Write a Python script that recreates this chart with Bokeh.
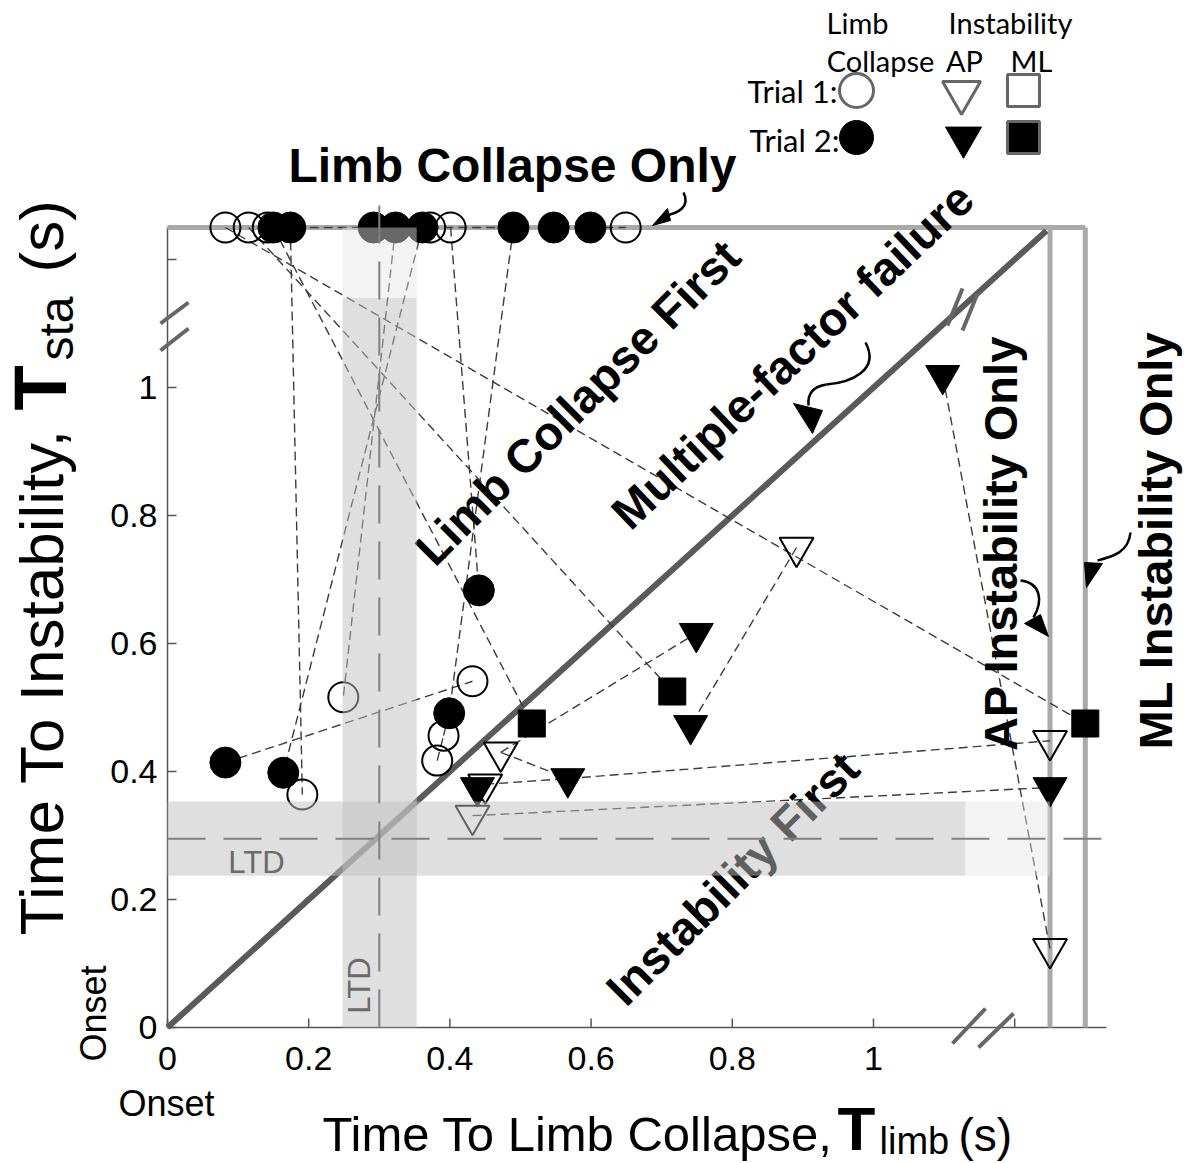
import math
from bokeh.plotting import figure
from bokeh.models import Range1d
from bokeh.core.properties import value
from bokeh.embed import file_html
from bokeh.resources import INLINE

# ---------------- data (seconds) ----------------
ONLY = 1.25          # limb-collapse-only level (top line)
AP_ONLY = 1.25       # x position of "AP instability only"
ML_ONLY = 1.30       # x position of "ML instability only"
LTD_X = 0.30
LTD_Y = 0.295
LTD_X_BAND = [0.248, 0.353]
LTD_Y_BAND = [0.237, 0.353]
BREAK_X = 1.13
BREAK_Y = 1.14

# limb collapse, trial 1 (open circles)
lc1_x = [0.082, 0.115, 0.142, 0.372, 0.401, 0.649, 0.191, 0.249, 0.432, 0.391, 0.382]
lc1_y = [1.25, 1.25, 1.25, 1.25, 1.25, 1.25, 0.364, 0.516, 0.541, 0.456, 0.417]
# limb collapse, trial 2 (filled circles)
lc2_x = [0.150, 0.174, 0.292, 0.323, 0.361, 0.490, 0.547, 0.599, 0.082, 0.164, 0.399, 0.441]
lc2_y = [1.25, 1.25, 1.25, 1.25, 1.25, 1.25, 1.25, 1.25, 0.414, 0.398, 0.491, 0.683]
# AP instability, trial 1 (open down-triangles)
ap1_x = [0.472, 0.450, 0.432, 0.891, 1.25, 1.25]
ap1_y = [0.430, 0.380, 0.331, 0.750, 0.448, 0.123]
# AP instability, trial 2 (filled down-triangles)
ap2_x = [0.439, 0.567, 0.749, 0.741, 1.098, 1.25]
ap2_y = [0.375, 0.389, 0.616, 0.472, 1.019, 0.375]
# ML instability, trial 2 (filled squares)
ml2_x = [0.516, 0.715, 1.30]
ml2_y = [0.475, 0.525, 0.475]

# subject links (group, index) -> (group, index)
links = [
    ("lc1", 0, "ml2", 2), ("lc1", 1, "ml2", 1), ("lc1", 2, "lc2", 2),
    ("lc2", 0, "ml2", 0), ("lc2", 1, "lc1", 6), ("lc2", 3, "lc1", 7),
    ("lc2", 4, "lc2", 9), ("lc1", 4, "lc2", 11), ("lc1", 3, "lc2", 5),
    ("lc2", 5, "lc2", 10), ("lc2", 7, "lc1", 5), ("lc2", 8, "lc1", 8),
    ("lc1", 9, "lc2", 10), ("lc1", 10, "lc1", 9), ("ap1", 0, "ap2", 2),
    ("ap1", 0, "ap2", 1), ("ap1", 1, "ap2", 1), ("ap2", 1, "ap1", 4),
    ("ap2", 0, "ap1", 1), ("ap1", 2, "ap2", 5), ("ap1", 3, "ap2", 3),
    ("ap2", 4, "ap1", 5),
]

x_ticks = [0, 0.2, 0.4, 0.6, 0.8, 1, 1.2]
x_tick_labels = ["0", "0.2", "0.4", "0.6", "0.8", "1", ""]
y_ticks = [0, 0.2, 0.4, 0.6, 0.8, 1, 1.2]
y_tick_labels = ["0", "0.2", "0.4", "0.6", "0.8", "1", ""]

groups = {"lc1": (lc1_x, lc1_y), "lc2": (lc2_x, lc2_y), "ap1": (ap1_x, ap1_y),
          "ap2": (ap2_x, ap2_y), "ml2": (ml2_x, ml2_y)}

# ---------------- layout helpers ----------------
W, H = 1187, 1163
X0, SX, Y0, SY = 167, 706, 1027, 640
def dx(px): return (px - X0) / SX
def dy(py): return (Y0 - py) / SY

FONT = value("Liberation Sans")
LEGF = value("Lato")

p = figure(width=W, height=H, output_backend="svg", toolbar_location=None,
           x_range=Range1d(dx(0), dx(W)), y_range=Range1d(dy(H), dy(0)),
           min_border=0, min_border_left=0, min_border_right=0, min_border_top=0,
           min_border_bottom=0)
p.axis.visible = False
p.grid.visible = False
p.outline_line_color = None
p.background_fill_color = "white"
p.border_fill_color = "white"

def txt(px, py, s, size, ang=0.0, bold=False, color="black", font=FONT, align="center",
        base="middle"):
    p.text(x=[dx(px)], y=[dy(py)], text=[s], angle=math.radians(ang), text_font=font,
           text_font_size=size, text_font_style="bold" if bold else "normal",
           text_color=color, text_align=align, text_baseline=base)

# ---------------- axes (drawn through the data scales) ----------------
AXC = "#555555"
p.segment(x0=[0, 0], y0=[0, 0], x1=[0, 1.33], y1=[ONLY, 0], line_color=AXC, line_width=1.5)
p.segment(x0=[0] * len(y_ticks), y0=y_ticks, x1=[9 / SX] * len(y_ticks), y1=y_ticks,
          line_color=AXC, line_width=1.5)
p.segment(x0=x_ticks, y0=[0] * len(x_ticks), x1=x_ticks, y1=[9 / SY] * len(x_ticks),
          line_color=AXC, line_width=1.5)
p.text(x=[-10 / SX] * len(y_ticks), y=y_ticks, text=y_tick_labels, text_font=FONT,
       text_font_size="34px", text_align="right", text_baseline="middle", text_color="black")
p.text(x=x_ticks, y=[-19 / SY] * len(x_ticks), text=x_tick_labels, text_font=FONT,
       text_font_size="34px", text_align="center", text_baseline="top", text_color="black")

# ---------------- reference lines ----------------
GRAYL = "#a9a9a9"
p.segment(x0=[0, AP_ONLY, ML_ONLY], y0=[ONLY, 0, 0], x1=[ML_ONLY, AP_ONLY, ML_ONLY],
          y1=[ONLY, ONLY, ONLY], line_color=GRAYL, line_width=5)
p.segment(x0=[0], y0=[0], x1=[1.245], y1=[1.245], line_color="#5a5a5a", line_width=6)

# subject links
sx0, sy0, sx1, sy1 = [], [], [], []
for g0, i0, g1, i1 in links:
    sx0.append(groups[g0][0][i0]); sy0.append(groups[g0][1][i0])
    sx1.append(groups[g1][0][i1]); sy1.append(groups[g1][1][i1])
p.segment(x0=sx0, y0=sy0, x1=sx1, y1=sy1, line_color="#3c3c3c", line_width=1.4,
          line_dash="9 5")

# markers
p.scatter(lc1_x, lc1_y, marker="circle", size=30, fill_color=None, line_color="black", line_width=2)
p.scatter(lc2_x, lc2_y, marker="circle", size=31, fill_color="black", line_color="black")
p.scatter(ap1_x, ap1_y, marker="inverted_triangle", size=34, fill_color=None, line_color="black", line_width=2)
p.scatter(ap2_x, ap2_y, marker="inverted_triangle", size=34, fill_color="black", line_color="black")
p.scatter(ml2_x, ml2_y, marker="square", size=27, fill_color="black", line_color="black")

# region annotations
txt(512, 165, "Limb Collapse Only", "48px", bold=True)
txt(577, 402, "Limb Collapse First", "47px", 45, bold=True)
txt(792, 355, "Multiple-factor failure", "47px", 43.5, bold=True)
txt(732, 878, "Instability First", "47px", 45, bold=True)
txt(1000, 543, "AP Instability Only", "47px", 90, bold=True)
txt(1155, 540, "ML Instability Only", "47px", 90, bold=True)

# LTD bands (drawn over data, semi-transparent)
p.quad(left=[LTD_X_BAND[0]], right=[LTD_X_BAND[1]], bottom=[0], top=[BREAK_Y],
       fill_color="#c0c0c0", fill_alpha=0.5, line_color=None)
p.quad(left=[LTD_X_BAND[0]], right=[LTD_X_BAND[1]], bottom=[BREAK_Y], top=[ONLY],
       fill_color="#e4e4e4", fill_alpha=0.45, line_color=None)
p.quad(left=[0], right=[BREAK_X], bottom=[LTD_Y_BAND[0]], top=[LTD_Y_BAND[1]],
       fill_color="#c0c0c0", fill_alpha=0.5, line_color=None)
p.quad(left=[BREAK_X], right=[AP_ONLY], bottom=[LTD_Y_BAND[0]], top=[LTD_Y_BAND[1]],
       fill_color="#e4e4e4", fill_alpha=0.45, line_color=None)
p.segment(x0=[0, LTD_X], y0=[LTD_Y, 0], x1=[1.33, LTD_X], y1=[LTD_Y, 1.31],
          line_color="#808080", line_width=2, line_dash="38 18")
txt(256, 862, "LTD", "31px", 0, color="#6a6a6a")
txt(359, 985, "LTD", "31px", 90, color="#6a6a6a")

# axis break marks
bx0 = [dx(188), dx(188), dx(985), dx(1013), dx(947), dx(962)]
by0 = [dy(302), dy(328), dy(1008), dy(1013), dy(325), dy(330)]
bx1 = [dx(160), dx(160), dx(952), dx(978), dx(962), dx(977)]
by1 = [dy(323), dy(350), dy(1043), dy(1047), dy(288), dy(293)]
p.segment(x0=bx0, y0=by0, x1=bx1, y1=by1, line_color="#666666", line_width=4)

# curved arrows
def arrow(pts, head):
    (sx, sy), (c0x, c0y), (c1x, c1y), (ex, ey) = pts
    p.bezier(x0=[dx(sx)], y0=[dy(sy)], x1=[dx(ex)], y1=[dy(ey)],
             cx0=[dx(c0x)], cy0=[dy(c0y)], cx1=[dx(c1x)], cy1=[dy(c1y)],
             line_color="black", line_width=2.5)
    p.patch([dx(a) for a, b in head], [dy(b) for a, b in head], fill_color="black",
            line_color="black")

arrow([(683, 192), (690, 206), (678, 213), (664, 215)], [(667, 208), (670, 220), (652, 225)])
arrow([(865, 342), (880, 370), (850, 382), (826, 384)], [(793, 403), (822, 410), (812, 433)])
p.bezier(x0=[dx(826)], y0=[dy(384)], x1=[dx(808)], y1=[dy(405)], cx0=[dx(812)],
         cy0=[dy(386)], cx1=[dx(807)], cy1=[dy(394)], line_color="black", line_width=2.5)
arrow([(1020, 580), (1040, 582), (1043, 600), (1033, 617)], [(1024, 623), (1040, 614), (1048, 636)])
arrow([(1130, 532), (1128, 552), (1112, 556), (1097, 560)], [(1084, 562), (1102, 563), (1086, 587)])

# legend
txt(857, 22, "Limb", "29px", font=LEGF)
txt(1010, 22, "Instability", "29px", font=LEGF)
txt(880, 60, "Collapse", "29px", font=LEGF)
txt(964, 60, "AP", "29px", font=LEGF)
txt(1031, 60, "ML", "29px", font=LEGF)
txt(837, 90, "Trial 1:", "31px", font=LEGF, align="right")
txt(839, 139, "Trial 2:", "31px", font=LEGF, align="right")
p.scatter([dx(856)], [dy(90)], marker="circle", size=34, fill_color=None, line_color="#666666", line_width=3)
p.scatter([dx(961)], [dy(92)], marker="inverted_triangle", size=38, fill_color=None, line_color="#666666", line_width=3)
p.scatter([dx(1023)], [dy(90)], marker="square", size=32, fill_color=None, line_color="#666666", line_width=3)
p.scatter([dx(856)], [dy(137)], marker="circle", size=34, fill_color="black", line_color="black")
p.scatter([dx(963)], [dy(137)], marker="inverted_triangle", size=36, fill_color="black", line_color="black")
p.scatter([dx(1023)], [dy(137)], marker="square", size=32, fill_color="black", line_color="#666666", line_width=3)

# axis titles and onset labels (middle baselines)
txt(322, 1133, "Time To Limb Collapse,", "49px", align="left")
txt(837, 1128, "T", "62px", bold=True, align="left")
txt(879, 1140, "limb", "38px", align="left")
txt(958, 1134, "(s)", "46px", align="left")

txt(41, 935, "Time To Instability,", "62px", 90, align="left")
txt(40, 410, "T", "74px", 90, bold=True, align="left")
txt(56, 360, "sta", "48px", 90, align="left")
txt(41, 272, "(s)", "62px", 90, align="left")

txt(93, 1013, "Onset", "36px", 90)
txt(166, 1103, "Onset", "36px", 0)

open("out.html", "w").write(file_html(p, INLINE))
